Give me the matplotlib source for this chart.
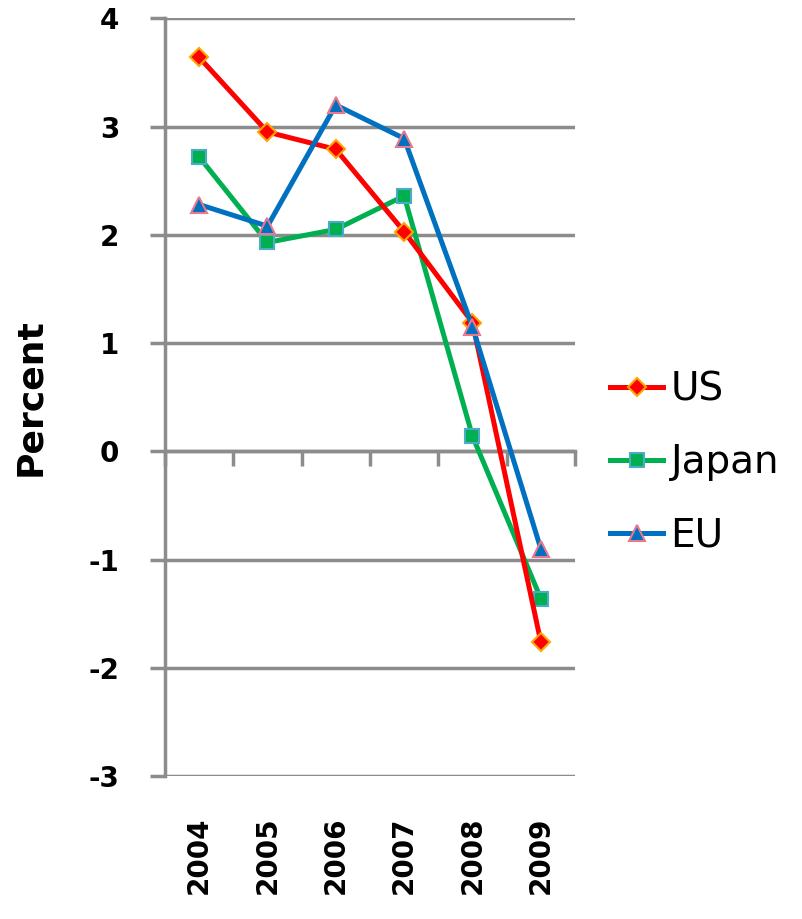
import numpy as np
import matplotlib.pyplot as plt

years = ['2004', '2005', '2006', '2007', '2008', '2009']
us = [3.64, 2.95, 2.79, 2.03, 1.19, -1.76]
japan = [2.72, 1.93, 2.05, 2.36, 0.14, -1.36]
eu = [2.28, 2.08, 3.20, 2.89, 1.15, -0.90]

grid_col = '#8c8c8c'
plt.rcParams['font.family'] = ['DejaVu Sans']
plt.rcParams['axes.unicode_minus'] = False

fig = plt.figure(figsize=(8.03, 9.19), dpi=100)
ax = fig.add_axes([0.2055, 0.1556, 0.5105, 0.8244])

x = np.arange(len(years))
ax.plot(x, japan, color='#00B050', lw=3.6, marker='s', ms=10.5,
        mfc='#00B050', mec='#4BACC6', mew=1.5, label='Japan', zorder=3)
ax.plot(x, us, color='#FF0000', lw=3.6, marker='D', ms=9,
        mfc='#FF0000', mec='#FFA500', mew=1.5, label='US', zorder=4)
ax.plot(x, eu, color='#0070C0', lw=3.6, marker='^', ms=11.5,
        mfc='#0070C0', mec='#E6798C', mew=1.5, label='EU', zorder=5)

ax.set_xlim(-0.5, len(years) - 0.5)
ax.set_ylim(-3, 4)
ax.set_yticks(range(-3, 5))
ax.yaxis.grid(True, color=grid_col, lw=2.5)
ax.set_axisbelow(True)

for side in ['top', 'right', 'bottom']:
    ax.spines[side].set_visible(False)
ax.spines['left'].set_color(grid_col)
ax.spines['left'].set_linewidth(2.5)

ax.tick_params(axis='y', length=11, width=2.5, color=grid_col, pad=22,
               labelsize=20)
for lab in ax.get_yticklabels():
    lab.set_fontweight('bold')

ax.set_xticks(x)
ax.set_xticklabels(years, rotation=90, fontsize=20, fontweight='bold')
ax.tick_params(axis='x', length=0, pad=29)

# horizontal axis line at zero with boundary ticks
zero_ax = ax.secondary_xaxis(3 / 7)
zero_ax.spines['bottom'].set_color(grid_col)
zero_ax.spines['bottom'].set_linewidth(2.5)
zero_ax.set_xticks(np.arange(-0.5, len(years), 1.0))
zero_ax.tick_params(axis='x', length=11, width=2.5, color=grid_col,
                    labelbottom=False)

ax.set_ylabel('Percent', fontsize=26, fontweight='bold', labelpad=30)

handles, labels = ax.get_legend_handles_labels()
order = [1, 0, 2]
fig.legend([handles[i] for i in order], [labels[i] for i in order],
           loc='center left', bbox_to_anchor=(0.760, 0.497), frameon=False,
           fontsize=28, handlelength=1.35, handletextpad=0.2,
           labelspacing=0.9, borderpad=0, borderaxespad=0)

fig.savefig('out.png', dpi=100)
